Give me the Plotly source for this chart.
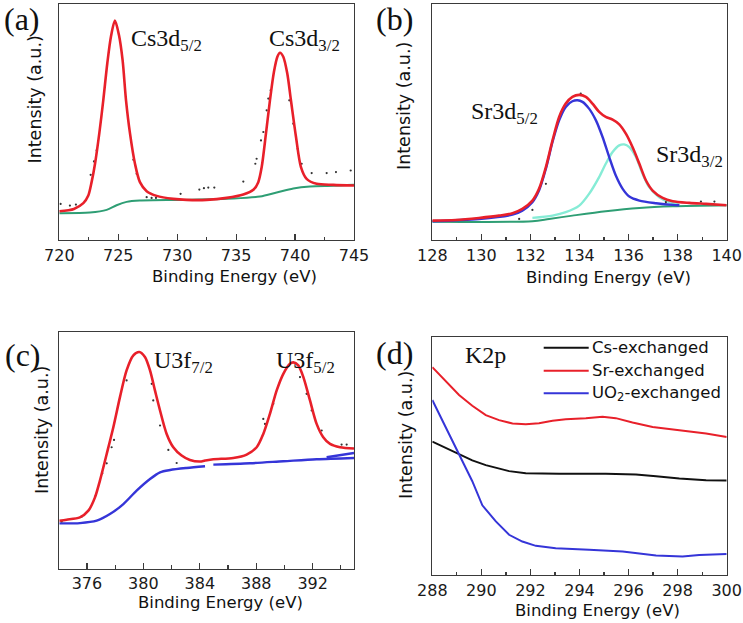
import plotly.graph_objects as go

W, H = 743, 623

# ---------------- Panel (a): Cs3d ----------------
a_fit_x = [720.0, 721.24, 722.04, 722.46, 722.74, 723.03, 723.39, 723.73, 724.07, 724.38,
           724.72, 725.06, 725.37, 725.66, 726.0, 726.42, 726.84, 727.41, 728.26, 729.67,
           730.8, 732.5, 734.2, 735.61, 736.46, 736.88, 737.17, 737.53, 737.87, 738.21,
           738.5, 738.72, 739.0, 739.34, 739.65, 740.08, 740.5, 740.98, 741.83, 743.25, 745.0]
a_fit_y = [28.7, 31.0, 36.7, 44.3, 57.7, 76, 106, 139.3, 176, 202.7,
           218.7, 204.3, 179.3, 139.3, 106, 76, 57.7, 48.7, 44, 41,
           40, 40, 42, 45.3, 50, 57.7, 72.7, 106, 139.3, 167.7,
           182.7, 186.7, 182.7, 166, 139.3, 102.7, 72.7, 61, 56, 55, 54.3]
a_bg_x = [720, 722.6, 724.02, 724.86, 725.71, 726.84, 730.52, 734.76, 737.02, 738.44, 739.85, 741.27, 743.25, 745]
a_bg_y = [26.7, 27.3, 30, 34.7, 38, 39.3, 40, 41.3, 43.3, 47.3, 51.3, 53.3, 54, 55]
a_dot_x = [720.11, 720.9, 721.41, 722.66, 722.94, 723.17, 726.28, 726.56, 727.41, 727.83, 728.2,
           730.29, 731.88, 732.27, 732.64, 733.15, 735.61, 736.63, 736.74, 737.11, 737.31, 737.59,
           737.73, 737.93, 739.51, 739.85, 740.22, 740.56, 741.41, 742.68, 743.47, 744.72]
a_dot_y = [36, 34.3, 35.3, 65, 78.3, 89.3, 80, 66, 42.7, 42, 42,
           46, 50.3, 51.7, 52.3, 52.3, 58.3, 76, 81, 99.3, 107.7, 129.3,
           141, 149.3, 139.3, 116, 91, 76, 66.7, 66.7, 67.7, 69.3]

# ---------------- Panel (b): Sr3d ----------------
b_fit_x = [128, 128.95, 129.9, 130.72, 131.27, 131.67, 132.08, 132.35, 132.63, 132.9, 133.17,
           133.44, 133.71, 133.99, 134.26, 134.53, 134.8, 135.07, 135.35, 135.62, 135.89, 136.16,
           136.44, 136.71, 136.98, 137.39, 137.8, 138.48, 139.16, 140]
b_fit_y = [19.3, 20, 22, 24.3, 26.7, 31, 39.3, 51, 72.7, 99.3, 122.7,
           136, 142.7, 144.7, 142.7, 136, 127.7, 122.7, 120, 115.3, 106, 92.7,
           76, 59.3, 49.3, 42, 38.7, 37, 36, 34.7]
b_p1_x = [128, 129.9, 131.27, 131.67, 132.08, 132.35, 132.63, 132.9, 133.17, 133.44, 133.71, 133.92,
          134.12, 134.39, 134.67, 134.94, 135.21, 135.48, 135.76, 136.03, 136.44, 137.12, 137.8, 138.07]
b_p1_y = [18.7, 21, 25.3, 29.3, 37.7, 49.3, 71, 97.7, 119.3, 132.7, 138.3, 139.3,
          137.7, 131, 119.3, 102.7, 82.7, 64.3, 51, 43.3, 39.3, 36.7, 35, 34.7]
b_p2_x = [132.08, 132.9, 133.44, 133.99, 134.39, 134.8, 135.07, 135.35, 135.62, 135.82, 136.03,
          136.3, 136.57, 136.84, 137.25, 137.66, 138.07]
b_p2_y = [22, 24.3, 27.7, 34.3, 46, 62.7, 76, 87.7, 94.3, 95.3, 92.7,
          82.7, 66, 52.7, 42.7, 37.7, 35.3]
b_bg_x = [128, 132.08, 132.76, 133.71, 135.07, 136.44, 137.8, 140]
b_bg_y = [18.3, 18.7, 21, 24.3, 28.7, 32, 33.7, 34.7]
b_dot_x = [131.54, 132.08, 132.63, 134.05, 137.52, 138.95, 139.5]
b_dot_y = [21, 30, 56, 146, 37.7, 38.3, 38.3]

# ---------------- Panel (c): U4f ----------------
c_fit_x = [374.04, 374.56, 375.5, 376.1, 376.57, 376.92, 377.4, 377.87, 378.34, 378.81, 379.29,
           379.71, 380.11, 380.47, 380.82, 381.18, 381.65, 382.12, 382.71, 383.3, 384.01, 384.37,
           384.96, 386.37, 387.32, 388.03, 388.5, 388.97, 389.45, 389.92, 390.39, 390.63, 390.98,
           391.34, 391.81, 392.28, 392.75, 393.23, 393.94, 394.93]
c_fit_y = [47.7, 48.7, 51, 57.7, 71, 87.7, 114.3, 141, 171, 197.7, 212.7,
           216, 211, 197.7, 177.7, 157.7, 134.3, 121, 112.7, 108.3, 106.7, 107.7,
           109, 110.3, 113.7, 121, 134.3, 154.3, 177.7, 194.3, 204.3, 205.7, 202.7,
           191, 167.7, 144.3, 131, 124.3, 121, 119.7]
c_bg_x = [374.04, 375.5, 376.69, 377.63, 378.58, 379.52, 380.47, 381.18, 381.9, 383.07, 384.37,
          None, 384.96, 387.56, 389.92, 392.28, 394.93, None, 392.99, 394.93]
c_bg_y = [45, 45.3, 47.7, 54.3, 64.3, 77.7, 89.3, 96, 98.3, 100.3, 102,
          None, 103.7, 105, 107, 109, 110.3, None, 111, 115.3]
c_dot_x = [374.21, 375.62, 376.57, 377.09, 377.4, 377.75, 377.92, 378.81, 380.59, 380.7, 381.18,
           381.77, 382.36, 388.5, 388.62, 389.21, 391.1, 391.57, 391.93, 392.64, 394.05, 394.41]
c_dot_y = [47, 51.7, 71.7, 95, 105, 121, 128.3, 187.7, 184.3, 167.7, 142.7,
           118.3, 105.3, 149.3, 144.3, 164.3, 191, 174.3, 157.7, 137.7, 123.7, 123.7]

# ---------------- Panel (d): K2p ----------------
d_cs_x = [288, 288.54, 289.09, 289.63, 290.18, 290.72, 291.13, 291.81, 293.17, 295.07, 296.3, 297.12, 298.07, 299.16, 300]
d_cs_y = [132.7, 126.7, 120, 114, 109.3, 106, 103.3, 101.3, 100.7, 100.7, 100, 98.3, 96, 94.3, 94]
d_sr_x = [288, 288.54, 289.09, 289.63, 290.18, 290.72, 291.27, 291.81, 292.35, 292.9, 293.44,
          294.26, 294.94, 295.48, 296.16, 296.98, 298.07, 299.16, 300]
d_sr_y = [206.7, 193.3, 179, 168.3, 159, 154, 150.7, 150, 151, 153.3, 155,
          156, 157.3, 156, 151.7, 147.3, 144, 140.7, 137.3]
d_u_x = [288, 288.54, 289.09, 289.63, 290.04, 290.59, 291.13, 291.67, 292.22, 293.03, 294.39,
         295.76, 297.12, 298.2, 298.88, 300]
d_u_y = [174, 146.7, 120, 93.3, 69.3, 53.3, 40, 33.3, 29, 26.7, 25,
         23.3, 19.3, 18.3, 20, 21]
d_legend = ["Cs-exchanged", "Sr-exchanged", "UO<sub>2</sub>-exchanged"]

RED = "#e8202a"
GREEN = "#2e9e74"
BLUE = "#3535d8"
CYAN = "#86ecd6"
DOT = "#333333"

fig = go.Figure()

def line(x, y, color, width, xa, ya, shape="spline"):
    fig.add_trace(go.Scatter(x=x, y=y, mode="lines", line=dict(color=color, width=width, shape=shape, smoothing=0.8),
                             xaxis=xa, yaxis=ya, showlegend=False, connectgaps=False, hoverinfo="skip"))

def dots(x, y, xa, ya):
    fig.add_trace(go.Scatter(x=x, y=y, mode="markers", marker=dict(color=DOT, size=2.2),
                             xaxis=xa, yaxis=ya, showlegend=False, hoverinfo="skip"))

# (a)
line(a_bg_x, a_bg_y, GREEN, 2, "x", "y")
dots(a_dot_x, a_dot_y, "x", "y")
line(a_fit_x, a_fit_y, RED, 2.6, "x", "y")
# (b)
line(b_bg_x, b_bg_y, GREEN, 2, "x2", "y2")
line(b_p2_x, b_p2_y, CYAN, 2.4, "x2", "y2")
line(b_p1_x, b_p1_y, BLUE, 2.4, "x2", "y2")
dots(b_dot_x, b_dot_y, "x2", "y2")
line(b_fit_x, b_fit_y, RED, 2.6, "x2", "y2")
# (c)
line(c_bg_x, c_bg_y, BLUE, 2.4, "x3", "y3")
dots(c_dot_x, c_dot_y, "x3", "y3")
line(c_fit_x, c_fit_y, RED, 2.6, "x3", "y3")
# (d)
line(d_cs_x, d_cs_y, "#111111", 2, "x4", "y4", "linear")
line(d_sr_x, d_sr_y, RED, 2, "x4", "y4", "linear")
line(d_u_x, d_u_y, BLUE, 2, "x4", "y4", "linear")

def px(x):
    return x / W

def py(y):
    return 1 - y / H

AX = "#3a3a3a"
TICKFONT = dict(family="DejaVu Sans", size=16, color="#1a1a1a")

def xaxis(dom, rng, dtick, mdtick, tick0):
    return dict(domain=dom, range=rng, showline=True, mirror=True, linecolor=AX, linewidth=1.3,
                ticks="inside", ticklen=6, tickwidth=1.2, tickcolor=AX, dtick=dtick, tick0=tick0,
                minor=dict(ticks="inside", ticklen=3.5, tickwidth=1.2, tickcolor=AX, dtick=mdtick, tick0=tick0),
                showgrid=False, zeroline=False, tickfont=TICKFONT, fixedrange=True, automargin=False)

def yaxis(dom, rng, anchor):
    return dict(domain=dom, range=rng, showline=True, mirror=True, linecolor=AX, linewidth=1.3,
                ticks="", showticklabels=False, showgrid=False, zeroline=False, anchor=anchor,
                fixedrange=True, automargin=False)

top_dom = [py(240), py(4)]
c_dom = [py(568.5), py(332)]
d_dom = [py(575), py(337)]
left_dom = [px(59.3), px(354)]
right_dom = [px(432.3), px(726.7)]

fig.update_layout(
    template="none",
    width=W, height=H, margin=dict(l=0, r=0, t=0, b=0, pad=0), autosize=False,
    paper_bgcolor="white", plot_bgcolor="white", showlegend=False,
    xaxis=dict(xaxis(left_dom, [720, 745], 5, 2.5, 720), anchor="y"),
    yaxis=yaxis(top_dom, [0, 235.3], "x"),
    xaxis2=dict(xaxis(right_dom, [128, 140], 2, 1, 128), anchor="y2"),
    yaxis2=yaxis(top_dom, [0, 235.3], "x2"),
    xaxis3=dict(xaxis(left_dom, [374.04, 394.93], 4, 2, 376), anchor="y3"),
    yaxis3=yaxis(c_dom, [0, 236], "x3"),
    xaxis4=dict(xaxis(right_dom, [288, 300], 2, 1, 288), anchor="y4"),
    yaxis4=yaxis(d_dom, [0, 236.7], "x4"),
)

ann = []
SERIF = "Liberation Serif"

def text(t, x, y, size, family, xanchor="center", yanchor="middle", angle=0, color="#111111"):
    ann.append(dict(text=t, x=px(x), y=py(y), xref="paper", yref="paper", showarrow=False,
                    xanchor=xanchor, yanchor=yanchor, textangle=angle,
                    font=dict(family=family, size=size, color=color)))

# panel letters
text("(a)", 22, 19, 32, SERIF)
text("(b)", 394.5, 19, 32, SERIF)
text("(c)", 22.5, 355, 32, SERIF)
text("(d)", 394.5, 353, 32, SERIF)

# peak labels
text("Cs3d<sub>5/2</sub>", 129, 40, 24, SERIF, xanchor="left")
text("Cs3d<sub>3/2</sub>", 267, 40, 24, SERIF, xanchor="left")
text("Sr3d<sub>5/2</sub>", 469, 113, 24, SERIF, xanchor="left")
text("Sr3d<sub>3/2</sub>", 654, 156, 24, SERIF, xanchor="left")
text("U3f<sub>7/2</sub>", 152, 362, 24, SERIF, xanchor="left")
text("U3f<sub>5/2</sub>", 274, 362, 24, SERIF, xanchor="left")
text("K2p", 463, 355, 24, SERIF, xanchor="left")

# axis titles
SANS = "DejaVu Sans"
for cx, cy in [(235, 276), (608, 277), (220, 602), (597, 610)]:
    text("Binding Energy (eV)", cx, cy, 16.5, SANS)
for cx, cy in [(34.5, 100), (404, 106), (42, 430), (406, 435)]:
    text("Intensity (a.u.)", cx, cy, 17.5, SANS, angle=-90)

# legend for (d)
leg_colors = ["#111111", RED, BLUE]
leg_y = [347.7, 370.7, 393.3]
shapes = []
for name, col, ly in zip(d_legend, leg_colors, leg_y):
    shapes.append(dict(type="line", xref="paper", yref="paper", x0=px(543.7), x1=px(588.7),
                       y0=py(ly), y1=py(ly), line=dict(color=col, width=2)))
    text(name, 590, ly, 16.5, SANS, xanchor="left")

fig.update_layout(annotations=ann, shapes=shapes)
fig.write_html("out.html", config={"displayModeBar": False, "staticPlot": True},
               post_script="document.body.style.margin='0';document.body.style.overflow='hidden';")
